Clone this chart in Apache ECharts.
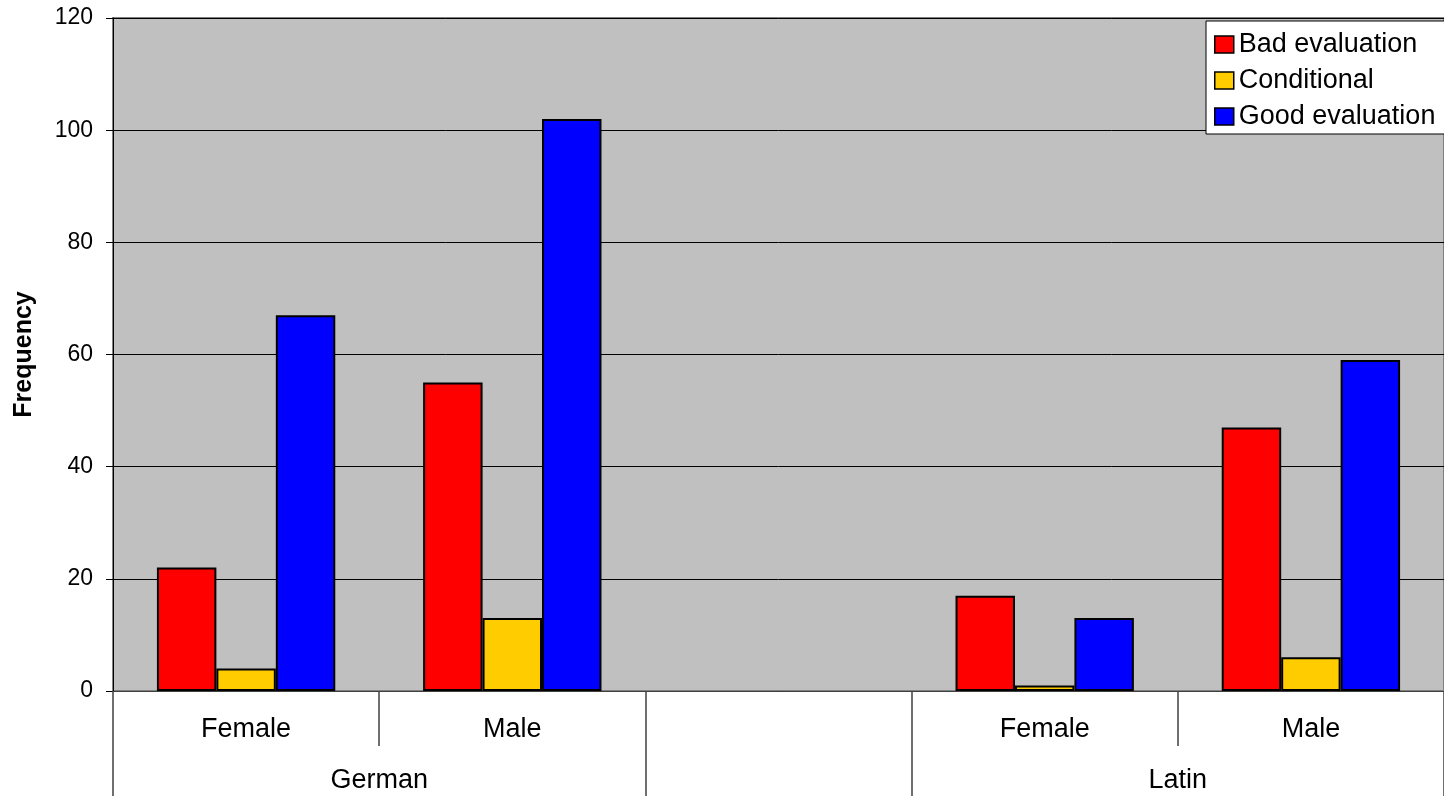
<!DOCTYPE html>
<html>
<head>
<meta charset="utf-8">
<title>Frequency</title>
<script src="https://cdn.jsdelivr.net/npm/echarts@6/dist/echarts.min.js"></script>
<style>
html, body { margin: 0; padding: 0; background: #fff; }
#main { width: 1444px; height: 796px; }
</style>
</head>
<body>
<div id="main"></div>
<script>
var subCategories = ['Female', 'Male', '', 'Female', 'Male'];
var groupNames = ['German', '', 'Latin'];
var groupSpans = [2, 1, 2];

var seriesNames = ['Bad evaluation', 'Conditional', 'Good evaluation'];
var badValues = [22, 55, null, 17, 47];
var conditionalValues = [4, 13, null, 1, 6];
var goodValues = [67, 102, null, 13, 59];

var yTicks = [0, 20, 40, 60, 80, 100, 120];

var colors = ['#FF0000', '#FFCC00', '#0000FF'];
var font = 'Liberation Sans, Arial, sans-serif';

// group boundaries and centres along a 0..n value axis
var groupEdges = [0];
var groupCentres = [];
var acc = 0;
for (var i = 0; i < groupSpans.length; i++) {
    groupCentres.push(acc + groupSpans[i] / 2);
    acc += groupSpans[i];
    groupEdges.push(acc);
}

var myChart = echarts.init(document.getElementById('main'));

function barSeries(name, values, color) {
    return {
        name: name,
        type: 'bar',
        xAxisIndex: 0,
        barGap: 0,
        barCategoryGap: '33%',
        itemStyle: {
            color: color,
            borderColor: '#000',
            borderWidth: 2
        },
        emphasis: { disabled: true },
        data: values
    };
}

var option = {
    animation: false,
    textStyle: { fontFamily: font },
    grid: {
        left: 113,
        right: 0,
        top: 18,
        bottom: 105,
        show: true,
        backgroundColor: '#C0C0C0',
        borderColor: '#808080',
        borderWidth: 2
    },
    legend: {
        orient: 'vertical',
        left: 1206,
        top: 21,
        padding: [10, 20, 4, 8],
        itemGap: 9,
        itemWidth: 19,
        itemHeight: 17,
        icon: 'rect',
        backgroundColor: '#fff',
        borderColor: '#000',
        borderWidth: 1,
        itemStyle: { borderColor: '#000', borderWidth: 1.5 },
        textStyle: { fontSize: 27, lineHeight: 26.5, color: '#000', fontFamily: font },
        data: seriesNames
    },
    xAxis: [{
        type: 'category',
        data: subCategories,
        position: 'bottom',
        axisLine: { show: true, lineStyle: { color: '#404040', width: 1 } },
        axisTick: {
            show: true,
            interval: 0,
            length: 55,
            lineStyle: { color: '#404040', width: 1.5 }
        },
        axisLabel: {
            interval: 0,
            fontSize: 27,
            color: '#000',
            margin: 25,
            fontFamily: font
        },
        splitLine: { show: false }
    }, {
        type: 'value',
        position: 'bottom',
        min: 0,
        max: groupEdges[groupEdges.length - 1],
        axisLine: { show: false },
        splitLine: { show: false },
        axisTick: {
            show: true,
            length: 105,
            customValues: groupEdges,
            lineStyle: { color: '#404040', width: 1.5 }
        },
        axisLabel: {
            customValues: groupCentres,
            fontSize: 27,
            color: '#000',
            margin: 76,
            fontFamily: font,
            formatter: function (v) {
                var idx = groupCentres.indexOf(v);
                return idx >= 0 ? groupNames[idx] : '';
            }
        }
    }],
    yAxis: {
        type: 'value',
        min: yTicks[0],
        max: yTicks[yTicks.length - 1],
        interval: 20,
        name: 'Frequency',
        nameLocation: 'middle',
        nameGap: 76,
        nameTextStyle: { fontSize: 25, fontWeight: 'bold', color: '#000', fontFamily: font },
        axisLine: { show: true, lineStyle: { color: '#000', width: 1 } },
        axisTick: { show: true, length: 7, lineStyle: { color: '#000' } },
        axisLabel: { fontSize: 23, color: '#000', margin: 20, fontFamily: font },
        splitLine: { show: true, lineStyle: { color: '#000', width: 1 } }
    },
    series: [
        barSeries(seriesNames[0], badValues, colors[0]),
        barSeries(seriesNames[1], conditionalValues, colors[1]),
        barSeries(seriesNames[2], goodValues, colors[2])
    ]
};

myChart.setOption(option);
</script>
</body>
</html>
